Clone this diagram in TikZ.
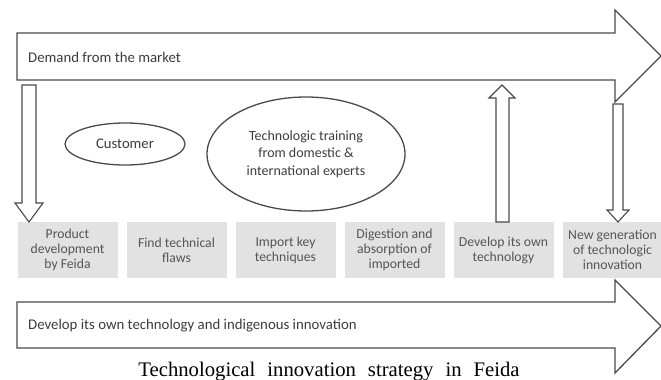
\documentclass[tikz,border=0pt]{standalone}
\usepackage{fontspec}
\setmainfont{Carlito}
\newfontfamily\captionfont{Liberation Serif}
\usetikzlibrary{positioning,shapes.geometric}

\definecolor{linegray}{HTML}{4A4A4A}
\definecolor{boxgray}{HTML}{E2E2E2}
\definecolor{boxtext}{HTML}{555555}
\definecolor{maintext}{HTML}{3C3C3C}

\tikzset{
  frame/.style={draw=linegray, line width=1.3pt, line join=miter},
  stage/.style={fill=boxgray, text=boxtext, minimum width=100pt, minimum height=56pt,
    inner sep=1pt, outer sep=0pt, align=center, font=\fontsize{13.7}{15}\selectfont},
  oval/.style={frame, ellipse, inner sep=0pt, text=maintext, align=center,
    font=\fontsize{14}{17.5}\selectfont},
  label/.style={text=maintext, anchor=west, inner sep=0pt, font=\fontsize{14.8}{17}\selectfont}
}

\begin{document}
\begin{tikzpicture}[x=1pt,y=-1pt]
        \useasboundingbox (0,0) rectangle (661,380);

        % верхня стрілка: попит ринку
        \draw[frame] (17,33) -- (615,33) -- (615,10) -- (661,56) -- (615,102) -- (615,80) -- (17,80) -- cycle;
        \node[label] (market) at (28,57) {Demand from the market};

        % нижня стрілка: власні технології
        \draw[frame] (17,302) -- (615,302) -- (615,280) -- (661,326) -- (615,373) -- (615,348) -- (17,348) -- cycle;
        \node[label] (own) at (28,326) {Develop its own technology and indigenous innovation};

        % овали
        \node[oval, minimum width=120pt, minimum height=42pt, font=\fontsize{14.7}{17}\selectfont] (customer) at (125,144) {Customer};
        \node[oval, minimum width=198pt, minimum height=114pt] (experts) at (306,154)
            {Technologic training\\from domestic \&\\international experts};

        % етапи
        \node[stage] (b1) at (67.5,250) {Product\\development\\by Feida};
        \node[stage, right=9pt of b1] (b2) {Find technical\\flaws};
        \node[stage, right=9pt of b2] (b3) {Import key\\techniques};
        \node[stage, right=9pt of b3] (b4) {Digestion and\\absorption of\\imported};
        \node[stage, right=9pt of b4] (b5) {Develop its own\\technology};
        \node[stage, right=9pt of b5] (b6) {New generation\\of technologic\\innovation};

        % вертикальні стрілки
        \draw[frame, line width=1.1pt] (22,85) -- (36,85) -- (36,203) -- (43,203) -- (29,222) -- (15,203) -- (22,203) -- cycle;
        \draw[frame, line width=1.1pt] (496,222) -- (509,222) -- (509,98) -- (515,98) -- (502,85) -- (489,98) -- (496,98) -- cycle;
        \draw[frame, line width=1.1pt] (613,104) -- (623,104) -- (623,210) -- (629,210) -- (618,222) -- (607,210) -- (613,210) -- cycle;

        \node[anchor=base, inner sep=0pt, font=\captionfont\fontsize{20.7}{22}\selectfont] (caption) at (329,376)
            {Technological\hspace{12pt}innovation\hspace{12pt}strategy\hspace{12pt}in\hspace{12pt}Feida};

    \end{tikzpicture}
\end{document}
